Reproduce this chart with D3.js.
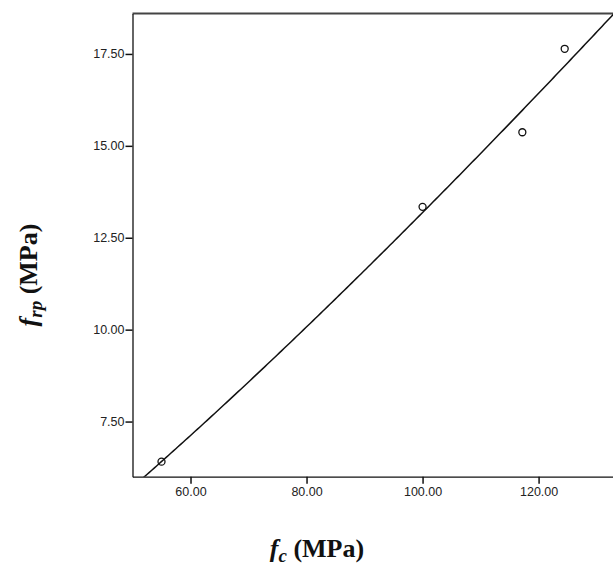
<!DOCTYPE html>
<html>
<head>
<meta charset="utf-8">
<script src="https://cdn.jsdelivr.net/npm/d3@7"></script>
<style>
  body { margin: 0; background: #fff; }
  .tick text { font-family: "Liberation Sans", Arial, sans-serif; font-size: 12.5px; fill: #222; }
  .axisLabel { font-family: "Liberation Serif", "Times New Roman", serif; font-size: 26px; font-weight: bold; fill: #111; }
</style>
</head>
<body>
<script>
// observed points (fc, frp) in MPa
const fc = [55.0, 100.0, 117.2, 124.5]
const frp = [6.41, 13.34, 15.37, 17.64]
const xTicks = [60, 80, 100, 120]
const yTicks = [7.5, 10, 12.5, 15, 17.5]

let width = 613,
    height = 565

const plot = {left: 132.5, right: 614, top: 13.5, bottom: 476.7}

let svg = d3.select('body').append('svg')
  .attr('width', width)
  .attr('height', height)

const x = d3.scaleLinear().domain([50, 133]).range([plot.left, plot.right])
const y = d3.scaleLinear().domain([6.0, 18.6]).range([plot.bottom, plot.top])

// power fit y = a * x^b, least squares in log-log space
const lx = fc.map(Math.log), ly = frp.map(Math.log)
const mx = d3.mean(lx), my = d3.mean(ly)
const b = d3.sum(lx, (v, i) => (v - mx) * (ly[i] - my)) / d3.sum(lx, v => (v - mx) * (v - mx))
const a = Math.exp(my - b * mx)

svg.append('clipPath').attr('id', 'plotClip')
  .append('rect')
  .attr('x', plot.left).attr('y', plot.top)
  .attr('width', plot.right - plot.left).attr('height', plot.bottom - plot.top)

// frame top
svg.append('line')
  .attr('x1', plot.left).attr('x2', plot.right)
  .attr('y1', plot.top).attr('y2', plot.top)
  .style('stroke', '#444').style('stroke-width', 2)

let xAxis = svg.append('g')
  .attr('transform', `translate(0, ${plot.bottom})`)
  .call(d3.axisBottom(x).tickValues(xTicks).tickFormat(d3.format('.2f')).tickSize(7).tickSizeOuter(0).tickPadding(2))
xAxis.select('.domain').style('stroke', '#111').style('stroke-width', 1.3)
xAxis.selectAll('.tick line').style('stroke', '#111').style('stroke-width', 1.5)
xAxis.selectAll('.tick text').attr('dy', '0.8em')

let yAxis = svg.append('g')
  .attr('transform', `translate(${plot.left}, 0)`)
  .call(d3.axisLeft(y).tickValues(yTicks).tickFormat(d3.format('.2f')).tickSize(7).tickSizeOuter(0).tickPadding(1))
yAxis.select('.domain').style('stroke', '#111').style('stroke-width', 1.3)
yAxis.selectAll('.tick line').style('stroke', '#111').style('stroke-width', 1.5)

// fitted curve
const xs = d3.range(0, 201).map(i => 50 + i * (133 - 50) / 200)
const fitLine = d3.line().x(d => x(d)).y(d => y(a * Math.pow(d, b)))
svg.append('path')
  .attr('clip-path', 'url(#plotClip)')
  .attr('d', fitLine(xs))
  .style('fill', 'none')
  .style('stroke', '#111')
  .style('stroke-width', 1.5)

svg.append('g').selectAll('circle')
  .data(fc.map((v, i) => ({fc: v, frp: frp[i]})))
  .enter().append('circle')
  .attr('cx', d => x(d.fc))
  .attr('cy', d => y(d.frp))
  .attr('r', 3.5)
  .style('fill', 'none')
  .style('stroke', '#111')
  .style('stroke-width', 1.3)

// axis titles
let xt = svg.append('text').attr('class', 'axisLabel')
  .attr('x', 317).attr('y', 557).attr('text-anchor', 'middle')
xt.append('tspan').style('font-style', 'italic').text('f')
xt.append('tspan').style('font-style', 'italic').attr('dy', 5).style('font-size', '19px').text('c')
xt.append('tspan').attr('dy', -5).text(' (MPa)')

let yt = svg.append('text').attr('class', 'axisLabel')
  .attr('transform', 'translate(37, 275) rotate(-90)').attr('text-anchor', 'middle')
yt.append('tspan').style('font-style', 'italic').text('f')
yt.append('tspan').style('font-style', 'italic').attr('dy', 5).style('font-size', '19px').text('rp')
yt.append('tspan').attr('dy', -5).text(' (MPa)')
</script>
</body>
</html>
